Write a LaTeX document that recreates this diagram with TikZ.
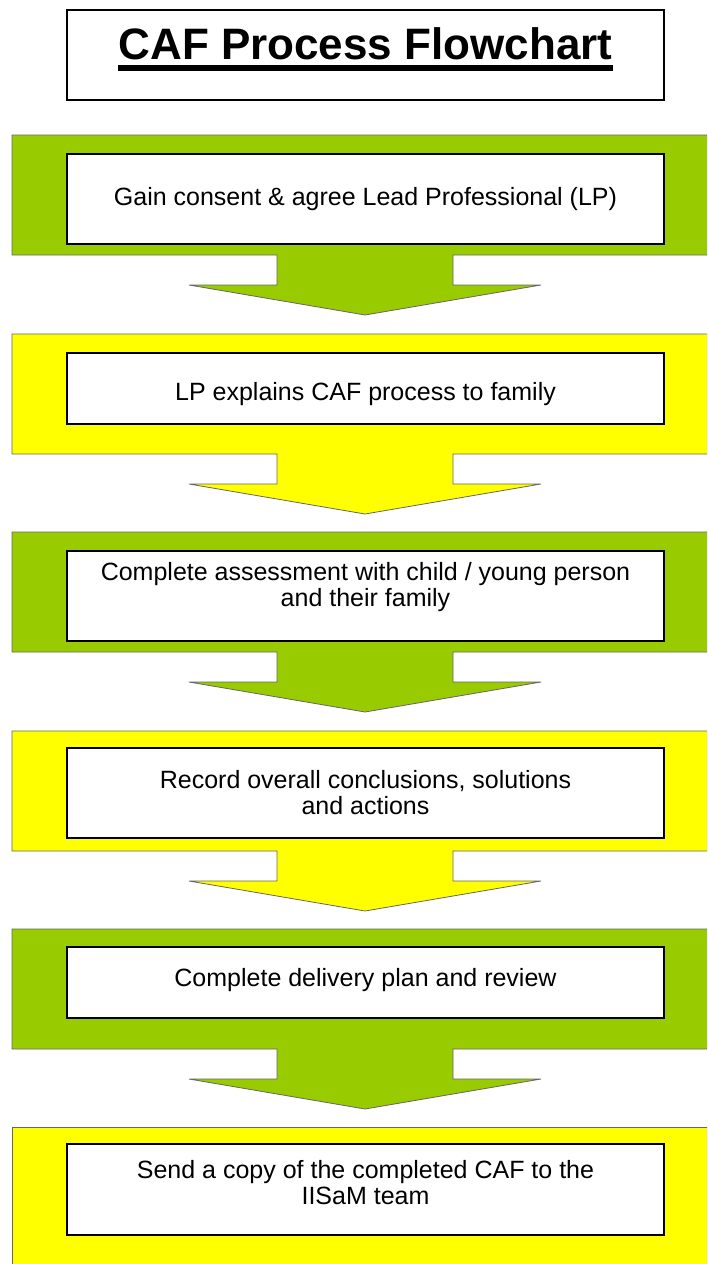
\documentclass[tikz,border=0pt]{standalone}
\usepackage{fontspec}
\setmainfont{Liberation Sans}
\definecolor{cafgreen}{HTML}{99CC00}
\definecolor{cafyellow}{HTML}{FFFF00}
\tikzset{
  band/.style={draw=black!60, line width=0.8pt, line join=miter},
  stagebox/.style={draw=black, line width=1.5pt, fill=white, minimum width=597pt, inner sep=0pt},
  stagetext/.style={anchor=north, inner sep=0pt, align=center, font=\fontsize{25}{26}\selectfont},
}
\begin{document}
\begin{tikzpicture}[x=1pt, y=-1pt]
  \useasboundingbox (0,0) rectangle (707,1264);
  \clip (0,0) rectangle (707,1264);

  % title
  \node[draw, line width=1.5pt, minimum width=597pt, minimum height=90pt] (title) at (365.5,55) {};
  \node[anchor=base, inner sep=0pt, font=\fontsize{44}{50}\selectfont\bfseries] (ttl) at (365.5,59) {CAF Process Flowchart};
  \draw[line width=6pt] ([yshift=-8.5pt]ttl.base west) -- ([yshift=-8.5pt]ttl.base east);

  % coloured bands with their down arrows
  \foreach \t/\c in {135/cafgreen, 334/cafyellow, 532/cafgreen, 731/cafyellow, 929/cafgreen}
    \draw[band, fill=\c] (12,\t) -- (712,\t) -- (712,\t+120) -- (453,\t+120) -- (453,\t+150)
      -- (541,\t+150) -- (365,\t+180) -- (189,\t+150) -- (277,\t+150) -- (277,\t+120) -- (12,\t+120) -- cycle;
  \draw[band, fill=cafyellow] (12,1127) rectangle (712,1270);

  % stage boxes
  \foreach \y/\h/\cap/\txt [count=\i] in {
      199/90/187/{Gain consent \& agree Lead Professional (LP)},
      388.5/71/382/{LP explains CAF process to family},
      596/90/562/{Complete assessment with child / young person\\and their family},
      793/90/770/{Record overall conclusions, solutions\\and actions},
      982.5/71/968/{Complete delivery plan and review},
      1189.5/91/1160/{Send a copy of the completed CAF to the\\IISaM team}}
  {
    \node[stagebox, minimum height=\h pt] (s\i) at (365.5,\y) {};
    \node[stagetext] (t\i) at (365.5,\cap) {\txt};
  }
\end{tikzpicture}
\end{document}
